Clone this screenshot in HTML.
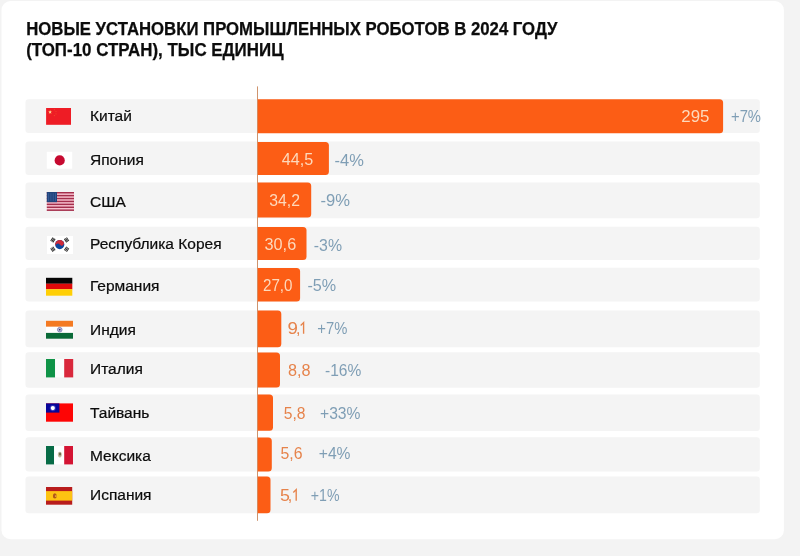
<!DOCTYPE html>
<html lang="ru"><head><meta charset="utf-8"><title>Новые установки промышленных роботов в 2024 году</title>
<style>
html,body{margin:0;padding:0;background:#f3f3f3;}
body{width:800px;height:556px;overflow:hidden;font-family:"Liberation Sans",sans-serif;}
svg{will-change:transform;display:block;position:absolute;left:0;top:0}
text{font-family:"Liberation Sans",sans-serif;}
.t{font-weight:bold;font-size:17.5px;fill:#0c0c0c;stroke:#0c0c0c;stroke-width:0.25px}
.l{font-size:15.5px;fill:#0c0c0c;stroke:#0c0c0c;stroke-width:0.22px}
.v{font-size:16px}
.vi{fill:#fdd9bc}
.vo{fill:#e6834b}
.p{font-size:16px;fill:#7f9eb5}
</style></head><body>
<svg width="800" height="556" viewBox="0 0 800 556">
<rect x="0" y="0" width="800" height="556" fill="#f3f3f3"/>
<rect x="1.5" y="1" width="782.4" height="538.2" rx="9" ry="9" fill="#ffffff"/>
<text class="t" x="26.2" y="35" textLength="531.3" lengthAdjust="spacingAndGlyphs">НОВЫЕ УСТАНОВКИ ПРОМЫШЛЕННЫХ РОБОТОВ В 2024 ГОДУ</text>
<text class="t" x="26.2" y="56.3" textLength="257.3" lengthAdjust="spacingAndGlyphs">(ТОП-10 СТРАН), ТЫС ЕДИНИЦ</text>
<rect x="25.5" y="99.2" width="734.3" height="33.7" rx="3" fill="#f4f4f4"/>
<rect x="25.5" y="141.6" width="734.3" height="33.5" rx="3" fill="#f4f4f4"/>
<rect x="25.5" y="182.6" width="734.3" height="35.7" rx="3" fill="#f4f4f4"/>
<rect x="25.5" y="226.8" width="734.3" height="33.3" rx="3" fill="#f4f4f4"/>
<rect x="25.5" y="267.7" width="734.3" height="33.8" rx="3" fill="#f4f4f4"/>
<rect x="25.5" y="310.6" width="734.3" height="36.6" rx="3" fill="#f4f4f4"/>
<rect x="25.5" y="352.2" width="734.3" height="35.5" rx="3" fill="#f4f4f4"/>
<rect x="25.5" y="394.5" width="734.3" height="36.4" rx="3" fill="#f4f4f4"/>
<rect x="25.5" y="437.3" width="734.3" height="34.2" rx="3" fill="#f4f4f4"/>
<rect x="25.5" y="476.4" width="734.3" height="36.9" rx="3" fill="#f4f4f4"/>
<rect x="257.0" y="86.4" width="1" height="434.4" fill="#cf946e"/>
<path d="M257.8 99.3H719.6Q723.1 99.3 723.1 102.8V129.7Q723.1 133.2 719.6 133.2H257.8Z" fill="#fc5d15"/>
<path d="M257.8 141.9H325.4Q328.9 141.9 328.9 145.4V171.5Q328.9 175.0 325.4 175.0H257.8Z" fill="#fc5d15"/>
<path d="M257.8 182.5H307.7Q311.2 182.5 311.2 186.0V214.0Q311.2 217.5 307.7 217.5H257.8Z" fill="#fc5d15"/>
<path d="M257.8 226.9H303.0Q306.5 226.9 306.5 230.4V256.6Q306.5 260.1 303.0 260.1H257.8Z" fill="#fc5d15"/>
<path d="M257.8 267.9H296.6Q300.1 267.9 300.1 271.4V297.9Q300.1 301.4 296.6 301.4H257.8Z" fill="#fc5d15"/>
<path d="M257.8 310.6H277.8Q281.3 310.6 281.3 314.1V343.7Q281.3 347.2 277.8 347.2H257.8Z" fill="#fc5d15"/>
<path d="M257.8 352.4H276.5Q280.0 352.4 280.0 355.9V384.1Q280.0 387.6 276.5 387.6H257.8Z" fill="#fc5d15"/>
<path d="M257.8 394.6H269.5Q273.0 394.6 273.0 398.1V427.2Q273.0 430.7 269.5 430.7H257.8Z" fill="#fc5d15"/>
<path d="M257.8 437.4H268.3Q271.8 437.4 271.8 440.9V468.0Q271.8 471.5 268.3 471.5H257.8Z" fill="#fc5d15"/>
<path d="M257.8 476.5H267.0Q270.5 476.5 270.5 480.0V509.79999999999995Q270.5 513.3 267.0 513.3H257.8Z" fill="#fc5d15"/>
<g><rect x="46.1" y="108" width="24.9" height="16.8" fill="#ee1c25"/><polygon points="50.10,109.80 50.62,111.39 52.29,111.39 50.94,112.37 51.45,113.96 50.10,112.98 48.75,113.96 49.26,112.37 47.91,111.39 49.58,111.39" fill="#ffae5c"/><circle cx="50.1" cy="112.1" r="0.8" fill="#ffe9c8"/><polygon points="54.30,109.00 54.48,109.55 55.06,109.55 54.59,109.89 54.77,110.45 54.30,110.11 53.83,110.45 54.01,109.89 53.54,109.55 54.12,109.55" fill="#f5552c"/><polygon points="56.00,110.70 56.18,111.25 56.76,111.25 56.29,111.59 56.47,112.15 56.00,111.81 55.53,112.15 55.71,111.59 55.24,111.25 55.82,111.25" fill="#f5552c"/><polygon points="56.00,113.10 56.18,113.65 56.76,113.65 56.29,113.99 56.47,114.55 56.00,114.21 55.53,114.55 55.71,113.99 55.24,113.65 55.82,113.65" fill="#f5552c"/><polygon points="54.30,114.80 54.48,115.35 55.06,115.35 54.59,115.69 54.77,116.25 54.30,115.91 53.83,116.25 54.01,115.69 53.54,115.35 54.12,115.35" fill="#f5552c"/></g>
<g><rect x="46.8" y="151.8" width="25.4" height="16.9" fill="#ffffff"/><circle cx="59.7" cy="160.4" r="5.1" fill="#c60a30"/></g>
<g><rect x="46.8" y="192.0" width="27.2" height="18.9" fill="#f7c0ce"/><rect x="46.8" y="192.00" width="27.2" height="1.45" fill="#a42f4c"/><rect x="46.8" y="194.91" width="27.2" height="1.45" fill="#a42f4c"/><rect x="46.8" y="197.82" width="27.2" height="1.45" fill="#a42f4c"/><rect x="46.8" y="200.72" width="27.2" height="1.45" fill="#a42f4c"/><rect x="46.8" y="203.63" width="27.2" height="1.45" fill="#a42f4c"/><rect x="46.8" y="206.54" width="27.2" height="1.45" fill="#a42f4c"/><rect x="46.8" y="209.45" width="27.2" height="1.45" fill="#a42f4c"/><rect x="46.8" y="192.0" width="10.2" height="10.18" fill="#21437a"/><rect x="48.10" y="193.2" width="1" height="7.78" fill="#3f66a4" opacity="0.7"/><rect x="50.40" y="193.2" width="1" height="7.78" fill="#3f66a4" opacity="0.7"/><rect x="52.70" y="193.2" width="1" height="7.78" fill="#3f66a4" opacity="0.7"/><rect x="55.00" y="193.2" width="1" height="7.78" fill="#3f66a4" opacity="0.7"/></g>
<g><rect x="47" y="236" width="26" height="18" fill="#ffffff"/><circle cx="59.75" cy="244.6" r="4.6" fill="#0b479d"/><g transform="rotate(-33.7 59.75 244.6)"><path d="M55.15 244.6A4.6 4.6 0 0 1 64.35 244.6A2.3 2.3 0 0 1 59.75 244.6A2.3 2.3 0 0 0 55.15 244.6Z" fill="#cf2a3a"/></g><g transform="translate(52.9 239.9) rotate(-56.3)"><rect x="-2.1" y="-1.8" width="4.2" height="1.0" fill="#303030"/><rect x="-2.1" y="-0.5" width="4.2" height="1.0" fill="#303030"/><rect x="-2.1" y="0.8" width="4.2" height="1.0" fill="#303030"/></g><g transform="translate(66.6 239.9) rotate(56.3)"><rect x="-2.1" y="-1.8" width="4.2" height="1.0" fill="#303030"/><rect x="-2.1" y="-0.5" width="4.2" height="1.0" fill="#303030"/><rect x="-2.1" y="0.8" width="4.2" height="1.0" fill="#303030"/></g><g transform="translate(52.9 249.2) rotate(56.3)"><rect x="-2.1" y="-1.8" width="4.2" height="1.0" fill="#303030"/><rect x="-2.1" y="-0.5" width="4.2" height="1.0" fill="#303030"/><rect x="-2.1" y="0.8" width="4.2" height="1.0" fill="#303030"/></g><g transform="translate(66.6 249.2) rotate(-56.3)"><rect x="-2.1" y="-1.8" width="4.2" height="1.0" fill="#303030"/><rect x="-2.1" y="-0.5" width="4.2" height="1.0" fill="#303030"/><rect x="-2.1" y="0.8" width="4.2" height="1.0" fill="#303030"/></g></g>
<g><rect x="46" y="277.8" width="26.3" height="6" fill="#050505"/><rect x="46" y="283.7" width="26.3" height="5.6" fill="#de0a0a"/><rect x="46" y="289.2" width="26.3" height="6.5" fill="#ffcf05"/></g>
<g><rect x="46" y="320.8" width="27" height="6" fill="#f47a22"/><rect x="46" y="326.8" width="27" height="6.1" fill="#ffffff"/><rect x="46" y="332.9" width="27" height="5.8" fill="#0a6a38"/><circle cx="59.75" cy="329.7" r="2.3" fill="#b8b8d8" stroke="#7a7ab4" stroke-width="0.8"/><circle cx="59.75" cy="329.7" r="0.8" fill="#2a2a60"/></g>
<g><rect x="46" y="359" width="9.1" height="18.4" fill="#0f9347"/><rect x="55.1" y="359" width="9.1" height="18.4" fill="#fcfcfc"/><rect x="64.2" y="359" width="9" height="18.4" fill="#d9283c"/></g>
<g><rect x="46" y="403.4" width="27" height="18.3" fill="#fe0505"/><rect x="46" y="403.4" width="13.4" height="9.2" fill="#06069a"/><circle cx="52.8" cy="408.1" r="3.1" fill="#3030b8"/><circle cx="52.8" cy="408.1" r="2.1" fill="#ffffff"/></g>
<g><rect x="46" y="446" width="8.1" height="18.4" fill="#076b46"/><rect x="54.1" y="446" width="10.1" height="18.4" fill="#ffffff"/><rect x="64.2" y="446" width="8.8" height="18.4" fill="#d41433"/><ellipse cx="59.8" cy="454.6" rx="2.0" ry="2.8" fill="#c4bea4"/><ellipse cx="60" cy="454.0" rx="1.0" ry="1.5" fill="#6b6648"/></g>
<g><rect x="46" y="487" width="26.2" height="17.7" fill="#b81c1c"/><rect x="46" y="491.1" width="26.2" height="9.5" fill="#fdc312"/><ellipse cx="54.8" cy="495.9" rx="1.9" ry="2.6" fill="#b0561a"/><circle cx="55.8" cy="496.1" r="0.9" fill="#f2b030"/></g>
<text class="l" x="90" y="120.6">Китай</text>
<text class="v vi" x="681.3" y="122.2" textLength="28.1" lengthAdjust="spacingAndGlyphs">295</text>
<text class="p" x="731.0" y="122.2" textLength="30.0" lengthAdjust="spacingAndGlyphs">+7%</text>
<text class="l" x="90" y="165.0">Япония</text>
<text class="v vi" x="281.8" y="165.0" textLength="31.4" lengthAdjust="spacingAndGlyphs">44,5</text>
<text class="p" x="334.5" y="165.5" textLength="29.3" lengthAdjust="spacingAndGlyphs">-4%</text>
<text class="l" x="90" y="206.8">США</text>
<text class="v vi" x="269.3" y="206.3" textLength="30.7" lengthAdjust="spacingAndGlyphs">34,2</text>
<text class="p" x="320.5" y="206.3" textLength="29.5" lengthAdjust="spacingAndGlyphs">-9%</text>
<text class="l" x="90" y="248.8">Республика Корея</text>
<text class="v vi" x="264.5" y="250.1" textLength="31.7" lengthAdjust="spacingAndGlyphs">30,6</text>
<text class="p" x="313.8" y="250.5" textLength="28.2" lengthAdjust="spacingAndGlyphs">-3%</text>
<text class="l" x="90" y="290.5">Германия</text>
<text class="v vi" x="263.0" y="290.8" textLength="29.5" lengthAdjust="spacingAndGlyphs">27,0</text>
<text class="p" x="307.5" y="290.5" textLength="28.7" lengthAdjust="spacingAndGlyphs">-5%</text>
<text class="l" x="90" y="335.0">Индия</text>
<text class="v vo" x="287.6" y="333.8" textLength="10.4" lengthAdjust="spacingAndGlyphs">9</text><text class="v vo" x="296.0" y="333.8">,</text><path d="M300.70000000000005 325.40000000000003L303.6 322.6V333.8" fill="none" stroke="#e6834b" stroke-width="1.35" stroke-linejoin="miter"/>
<text class="p" x="317.3" y="333.8" textLength="30.0" lengthAdjust="spacingAndGlyphs">+7%</text>
<text class="l" x="90" y="373.8">Италия</text>
<text class="v vo" x="288.0" y="375.6" textLength="22.5" lengthAdjust="spacingAndGlyphs">8,8</text>
<text class="p" x="325.0" y="375.6" textLength="36.3" lengthAdjust="spacingAndGlyphs">-16%</text>
<text class="l" x="90" y="417.5">Тайвань</text>
<text class="v vo" x="283.8" y="418.8" textLength="21.7" lengthAdjust="spacingAndGlyphs">5,8</text>
<text class="p" x="320.0" y="419.4" textLength="40.5" lengthAdjust="spacingAndGlyphs">+33%</text>
<text class="l" x="90" y="460.5">Мексика</text>
<text class="v vo" x="280.5" y="459.2" textLength="22.0" lengthAdjust="spacingAndGlyphs">5,6</text>
<text class="p" x="318.8" y="459.4" textLength="31.7" lengthAdjust="spacingAndGlyphs">+4%</text>
<text class="l" x="90" y="500.0">Испания</text>
<text class="v vo" x="279.9" y="500.8" textLength="9.9" lengthAdjust="spacingAndGlyphs">5</text><text class="v vo" x="287.8" y="500.8">,</text><path d="M293.3 492.40000000000003L296.2 489.6V500.8" fill="none" stroke="#e6834b" stroke-width="1.35" stroke-linejoin="miter"/>
<text class="p" x="310.8" y="501.1" textLength="28.7" lengthAdjust="spacingAndGlyphs">+1%</text>
</svg>
</body></html>
